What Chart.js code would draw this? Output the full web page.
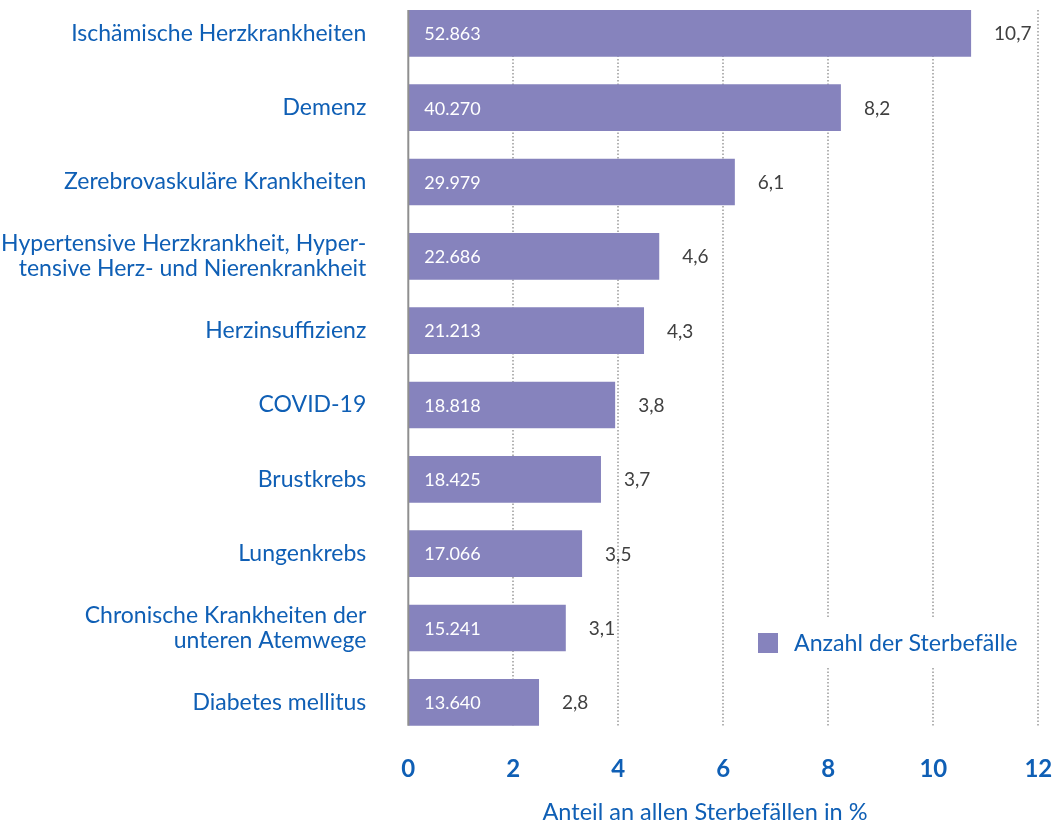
<!DOCTYPE html>
<html>
<head>
<meta charset="utf-8">
<script src="https://cdn.jsdelivr.net/npm/chart.js@4"></script>
<style>
  html, body { margin: 0; padding: 0; background: #fff; overflow: hidden; }
  #wrap { position: absolute; left: 0; top: -20px; width: 1064px; height: 844px; }
</style>
</head>
<body>
<div id="wrap"><canvas id="chart"></canvas></div>
<script>
// Kategorien (Todesursachen)
const categories = [
    "Ischämische Herzkrankheiten",
    "Demenz",
    "Zerebrovaskuläre Krankheiten",
    ["Hypertensive Herzkrankheit, Hyper-", "tensive Herz- und Nierenkrankheit"],
    "Herzinsuffizienz",
    "COVID-19",
    "Brustkrebs",
    "Lungenkrebs",
    ["Chronische Krankheiten der", "unteren Atemwege"],
    "Diabetes mellitus"
];

// Balkenlängen (Anteil in %)
const barValues = [10.72, 8.24, 6.22, 4.78, 4.49, 3.94, 3.67, 3.31, 3.00, 2.49];

// Beschriftungen
const deathCounts = ["52.863", "40.270", "29.979", "22.686", "21.213", "18.818", "18.425", "17.066", "15.241", "13.640"];
const shareLabels = ["10,7", "8,2", "6,1", "4,6", "4,3", "3,8", "3,7", "3,5", "3,1", "2,8"];

const seriesName = "Anzahl der Sterbefälle";
const axisTitle = "Anteil an allen Sterbefällen in %";

const BLUE = "#0f5fb5";
const BAR = "#8683bd";
const FONT = "Lato, 'Open Sans', sans-serif";

// ====== eigene Zeichnungen: Raster, Nulllinie, Werte, Legende ======
const overlay = {
    id: "overlay",
    beforeDatasetsDraw(chart) {
        const { ctx, scales: { x } } = chart;
        const bars = chart.getDatasetMeta(0).data;
        const top = bars[0].y - bars[0].height / 2;
        const bottom = bars[bars.length - 1].y + bars[bars.length - 1].height / 2;

        ctx.save();
        ctx.strokeStyle = "#9a9a9a";
        ctx.lineWidth = 1.5;
        ctx.setLineDash([1.5, 2]);
        x.ticks.forEach(t => {
            if (t.value === 0) return;
            const px = Math.round(x.getPixelForValue(t.value));
            ctx.beginPath();
            ctx.moveTo(px, top);
            ctx.lineTo(px, bottom);
            ctx.stroke();
        });
        ctx.restore();
    },
    afterDatasetsDraw(chart) {
        const { ctx, scales: { x } } = chart;
        const bars = chart.getDatasetMeta(0).data;
        const top = bars[0].y - bars[0].height / 2;
        const bottom = bars[bars.length - 1].y + bars[bars.length - 1].height / 2;

        ctx.save();

        // Nulllinie
        const x0 = x.getPixelForValue(0);
        ctx.strokeStyle = "#8f8f8f";
        ctx.lineWidth = 2;
        ctx.beginPath();
        ctx.moveTo(x0, top);
        ctx.lineTo(x0, bottom);
        ctx.stroke();

        // Werte
        ctx.textBaseline = "middle";
        ctx.textAlign = "left";
        bars.forEach((bar, i) => {
            ctx.font = `18px ${FONT}`;
            ctx.fillStyle = "#ffffff";
            ctx.fillText(deathCounts[i], bar.base + 16, bar.y + 1);
            ctx.font = `19px ${FONT}`;
            ctx.fillStyle = "#404040";
            ctx.fillText(shareLabels[i], bar.x + 23, bar.y + 1);
        });

        // Legende
        ctx.fillStyle = "#ffffff";
        ctx.fillRect(745, 638, 285, 48);
        ctx.fillStyle = BAR;
        ctx.fillRect(758, 653, 20, 20);
        ctx.fillStyle = BLUE;
        ctx.font = `23.2px ${FONT}`;
        ctx.fillText(seriesName, 794, 664);

        // Achsentitel
        ctx.textAlign = "center";
        ctx.font = `23.5px ${FONT}`;
        ctx.fillText(axisTitle, 705, 832);

        ctx.restore();
    }
};

new Chart(document.getElementById("chart"), {
    type: "bar",
    data: {
        labels: categories,
        datasets: [{
            label: seriesName,
            data: barValues,
            backgroundColor: BAR,
            borderWidth: 0,
            barPercentage: 0.628,
            categoryPercentage: 1
        }]
    },
    options: {
        indexAxis: "y",
        responsive: true,
        maintainAspectRatio: false,
        animation: false,
        layout: { padding: { top: 16.2, right: 25.7, left: 0, bottom: 0 } },
        plugins: {
            legend: { display: false },
            tooltip: { enabled: false }
        },
        scales: {
            x: {
                min: 0,
                max: 12,
                grid: { display: false, drawTicks: false },
                border: { display: false },
                ticks: {
                    stepSize: 2,
                    padding: 15,
                    color: BLUE,
                    font: { family: FONT, size: 24, weight: "bold" }
                },
                afterFit: (scale) => {
                    scale.height = 84.5;
                    scale.paddingLeft = 0;
                    scale.paddingRight = 0;
                }
            },
            y: {
                grid: { display: false, drawTicks: false },
                border: { display: false },
                ticks: {
                    padding: 42,
                    color: BLUE,
                    font: { family: FONT, size: 23, lineHeight: 1.09 }
                },
                afterFit: (scale) => {
                    scale.width = 408.3;
                    scale.paddingTop = 0;
                    scale.paddingBottom = 0;
                }
            }
        }
    },
    plugins: [overlay]
});
</script>
</body>
</html>
